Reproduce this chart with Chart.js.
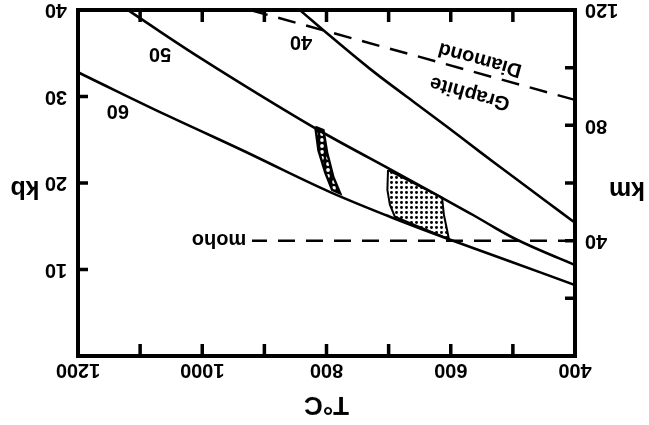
<!DOCTYPE html>
<html><head><meta charset="utf-8">
<script src="https://cdn.jsdelivr.net/npm/chart.js@4.4.1/dist/chart.umd.min.js"></script>
<style>
html,body{margin:0;padding:0;background:#fff;overflow:hidden}
#wrap{width:649px;height:425px;transform:rotate(180deg);transform-origin:50% 50%;}
canvas{display:block}
</style></head><body>
<div id="wrap"><canvas id="c" width="649" height="425"></canvas></div>
<script>
// Temperature (°C) and pressure (kb) readings
const tempTicks = [400,500,600,700,800,900,1000,1100,1200];
const tempLabels = [400,600,800,1000,1200];
const kbTicks = [10,20,30];
const kbLabels = [10,20,30,40];
const kmTicks = [20,40,60,80,100];
const kmLabels = [40,80,120];

const geo60T = [400,503,603,698,802,939,1068,1200];
const geo60P = [8.2,10.9,13.5,16.1,19.2,23.9,28.2,32.8];
const geo50T = [400,495,569,698,822,1004,1120];
const geo50P = [10.5,13.5,16.5,21.6,26.5,34.5,40];
const geo40T = [400,445,500,553,606,660,714,749,804,843];
const geo40P = [15.4,17.8,20.75,23.6,26.5,29.4,32.3,34.3,37.6,40];
const graphiteT = [400,923];
const graphiteP = [29.6,40];
const mohoT = [400,920];
const mohoP = [13.33,13.33];
const wavyT = [818,813,802,791,778,789,799,805,818];
const wavyP = [26.5,23.8,21.2,19.2,18.8,20.7,23.5,26.1,26.5];
const dotT = [701,614,611,606,603,690,698,702,701];
const dotP = [21.5,18.3,16.3,14.6,13.5,16.1,17.5,19.2,21.5];

const textItems = ['60','50','40','moho','Graphite','Diamond'];
const textT = [1136,1068,841,973,569,553];
const textP = [28.4,35.0,36.4,13.5,30.4,34.3];
const textAngle = [0,0,0,0,15.3,15.3];

const pts = (T,P) => T.map((t,i)=>({x:t,y:P[i]}));

function makePattern(kind){
  const c = document.createElement('canvas');
  const s = kind==='dot'?5:6;
  c.width=s;c.height=s;
  const g=c.getContext('2d');
  if(kind==='dot'){
    g.fillStyle='#fff';g.fillRect(0,0,s,s);
    g.fillStyle='#000';g.beginPath();g.arc(2.5,2.5,1.5,0,Math.PI*2);g.fill();
  } else {
    g.fillStyle='#000';g.fillRect(0,0,s,s);
    g.fillStyle='#fff';g.beginPath();g.arc(3,3,1.9,0,Math.PI*2);g.fill();
  }
  return g.createPattern(c,'repeat');
}

const FAM = "'Liberation Sans', Arial, Helvetica, sans-serif";
Chart.defaults.font.family = FAM;
Chart.defaults.font.size = 20;
Chart.defaults.font.weight = 'bold';
Chart.defaults.color = '#000';

const framePlugin = {
  id:'frame',
  afterDatasetsDraw(chart){
    const {ctx, chartArea:a, scales} = chart;
    const x = scales.x, kb = scales.kb, km = scales.km;
    ctx.save();
    ctx.strokeStyle='#000';
    ctx.lineWidth=4;
    ctx.strokeRect(a.left,a.top,a.right-a.left,a.bottom-a.top);
    ctx.lineWidth=3.5;
    ctx.beginPath();
    tempTicks.forEach(v=>{
      if(v===400||v===1200) return;
      const px=x.getPixelForValue(v);
      ctx.moveTo(px,a.top);ctx.lineTo(px,a.top+12);
      ctx.moveTo(px,a.bottom);ctx.lineTo(px,a.bottom-12);
    });
    kbTicks.forEach(v=>{const py=kb.getPixelForValue(v);ctx.moveTo(a.right,py);ctx.lineTo(a.right-10,py);});
    kmTicks.forEach(v=>{const py=km.getPixelForValue(v);ctx.moveTo(a.left,py);ctx.lineTo(a.left+10,py);});
    ctx.stroke();
    ctx.fillStyle='#000';
    ctx.textAlign='center';ctx.textBaseline='middle';
    ctx.font="bold 20px "+FAM;
    textItems.forEach((t,i)=>{
      const px=x.getPixelForValue(textT[i]), py=kb.getPixelForValue(textP[i]);
      ctx.save();ctx.translate(px,py);ctx.rotate(textAngle[i]*Math.PI/180);
      ctx.fillText(t,0,0);ctx.restore();
    });
    ctx.font="bold 25px "+FAM;
    ctx.fillText('kb', a.right+53, kb.getPixelForValue(19.4));
    ctx.fillText('km', a.left-52, km.getPixelForValue(58));
    ctx.font="bold 26px "+FAM;
    ctx.fillText('T°C', x.getPixelForValue(800), 21);
    ctx.restore();
  }
};

const lineDs = (T,P,opts) => Object.assign({
  data: pts(T,P), showLine:true, pointRadius:0, borderColor:'#000',
  borderWidth:2.6, tension:0.35, fill:false, yAxisID:'kb'
}, opts||{});

const zeroPad = s => { s.paddingTop=0; s.paddingBottom=0; s.paddingLeft=0; s.paddingRight=0; };

new Chart(document.getElementById('c'), {
  type:'scatter',
  data:{datasets:[
    lineDs(geo60T,geo60P),
    lineDs(geo50T,geo50P),
    lineDs(geo40T,geo40P),
    lineDs(graphiteT,graphiteP,{borderDash:[18,11],tension:0,borderWidth:2.4}),
    lineDs(mohoT,mohoP,{borderDash:[17,11],tension:0,borderWidth:2.4}),
    lineDs(wavyT,wavyP,{tension:0,fill:'shape',backgroundColor:makePattern('wavy'),borderWidth:2.5}),
    lineDs(dotT,dotP,{tension:0,fill:'shape',backgroundColor:makePattern('dot'),borderWidth:2})
  ]},
  options:{
    responsive:false, animation:false, devicePixelRatio:1,
    layout:{padding:{left:0,right:0,top:0,bottom:10}},
    plugins:{legend:{display:false},tooltip:{enabled:false}},
    scales:{
      x:{type:'linear',position:'top',min:400,max:1200,
        grid:{display:false,drawTicks:false},border:{display:false},
        ticks:{stepSize:100,padding:2,autoSkip:false,maxRotation:0,
          callback:v=>tempLabels.includes(v)?String(v):''},
        afterFit:s=>{s.height=69;zeroPad(s);}},
      kb:{type:'linear',position:'right',min:0,max:40,reverse:true,
        grid:{display:false,drawTicks:false},border:{display:false},
        ticks:{stepSize:10,padding:11,callback:v=>kbLabels.includes(v)?String(v):''},
        afterFit:s=>{s.width=78;zeroPad(s);}},
      km:{type:'linear',position:'left',min:0,max:120,reverse:true,
        grid:{display:false,drawTicks:false},border:{display:false},
        ticks:{stepSize:20,padding:10,callback:v=>kmLabels.includes(v)?String(v):''},
        afterFit:s=>{s.width=74;zeroPad(s);}}
    }
  },
  plugins:[framePlugin]
});
</script>
</body></html>
